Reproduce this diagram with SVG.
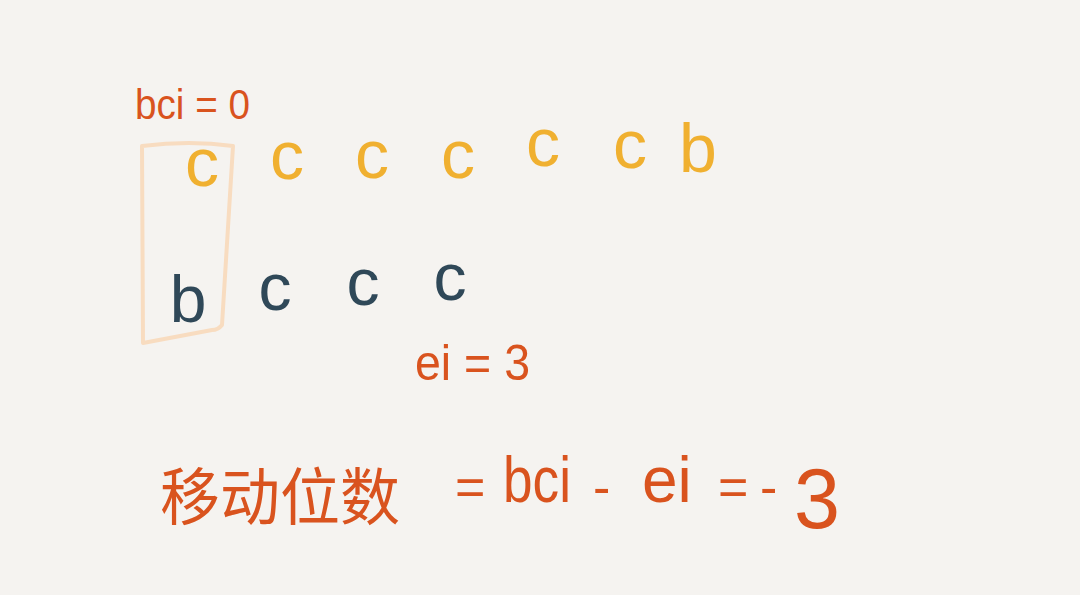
<svg xmlns="http://www.w3.org/2000/svg" width="1080" height="595" viewBox="0 0 1080 595">
<style>
.o{fill:#d9531e;font-family:"Liberation Sans","Noto Sans CJK SC",sans-serif}
.y{fill:#f0b030;font-family:"Liberation Sans",sans-serif;font-size:68px;text-anchor:middle}
.d{fill:#2f4858;font-family:"Liberation Sans",sans-serif;font-size:66px;text-anchor:middle}
</style>
<rect width="1080" height="595" fill="#f5f3f0"/>
<g id="box">
<path d="M142,146 Q190,140 233,146 L222,325 Q218,330 212,330 L143,343 Z" fill="none" stroke="#f8dcc0" stroke-width="4" stroke-linejoin="round"/>
</g>
<g id="bci"><text class="o" x="135" y="119" font-size="42" textLength="115" lengthAdjust="spacingAndGlyphs">bci = 0</text></g>
<g id="top">
<text class="y" x="202" y="186" font-size="62">c</text>
<text class="y" x="287" y="179">c</text>
<text class="y" x="372" y="178">c</text>
<text class="y" x="458" y="178">c</text>
<text class="y" x="543" y="166">c</text>
<text class="y" x="630" y="168">c</text>
<text class="y" x="698" y="172">b</text>
</g>
<g id="bottom">
<text class="d" x="188" y="322" font-size="82">b</text>
<text class="d" x="275" y="310">c</text>
<text class="d" x="363" y="305">c</text>
<text class="d" x="450" y="300">c</text>
</g>
<g id="ei"><text class="o" x="415" y="380" font-size="50" textLength="115" lengthAdjust="spacingAndGlyphs">ei = 3</text></g>
<g id="formula">
<text class="o" x="160" y="520" font-size="62" textLength="240" lengthAdjust="spacingAndGlyphs">移动位数</text>
<text class="o" x="455" y="505" font-size="52">=</text>
<text class="o" x="503" y="502" font-size="64" textLength="68" lengthAdjust="spacingAndGlyphs">bci</text>
<text class="o" x="593" y="505" font-size="52">-</text>
<text class="o" x="642" y="502" font-size="64">ei</text>
<text class="o" x="718" y="505" font-size="52">=</text>
<text class="o" x="760" y="505" font-size="52">-</text>
<text class="o" x="794" y="528" font-size="86" textLength="46" lengthAdjust="spacingAndGlyphs">3</text>
</g>
</svg>
